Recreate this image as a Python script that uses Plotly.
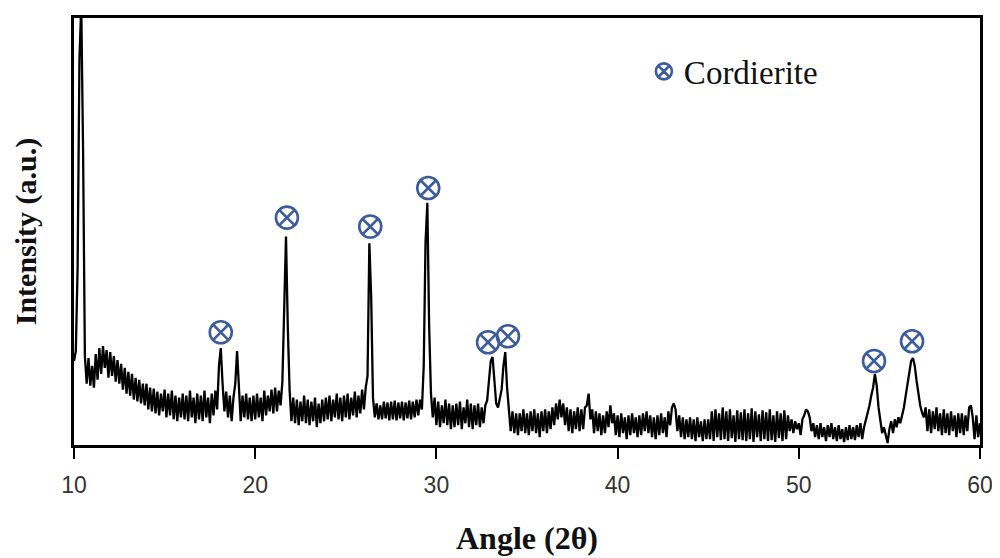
import plotly.graph_objects as go

# XRD pattern: angles 10.0 .. 60.0 step 0.1
angle_start, angle_step = 10.0, 0.1
intensity_rows = [
    [85, 95, 180, 390, 445, 300, 90, 62, 88, 60],      # 10
    [80, 58, 92, 66, 98, 72, 100, 78, 96, 68],         # 11
    [94, 70, 90, 64, 86, 62, 82, 56, 78, 52],          # 12
    [74, 50, 72, 46, 68, 44, 66, 42, 62, 40],          # 13
    [62, 36, 58, 34, 57, 32, 54, 30, 52, 34],          # 14
    [56, 28, 52, 30, 55, 26, 50, 24, 48, 28],          # 15
    [52, 26, 50, 24, 55, 28, 48, 22, 52, 26],          # 16
    [50, 24, 55, 28, 48, 22, 52, 30, 55, 36],          # 17
    [80, 98, 62, 34, 54, 28, 50, 24, 48, 62],          # 18
    [95, 55, 24, 50, 28, 52, 26, 48, 24, 50],          # 19
    [26, 52, 28, 48, 24, 55, 30, 50, 34, 56],          # 20
    [32, 58, 34, 55, 40, 64, 130, 211, 118, 55],       # 21
    [24, 48, 22, 46, 20, 44, 24, 50, 22, 46],          # 22
    [20, 44, 24, 48, 18, 42, 22, 46, 24, 48],          # 23
    [26, 50, 24, 46, 28, 52, 26, 48, 24, 50],          # 24
    [28, 52, 26, 48, 30, 54, 28, 50, 32, 56],          # 25
    [36, 58, 70, 204, 150, 48, 28, 42, 26, 40],        # 26
    [26, 44, 27, 43, 25, 44, 26, 45, 25, 43],          # 27
    [27, 44, 25, 43, 27, 45, 26, 44, 28, 46],          # 28
    [30, 46, 36, 80, 205, 245, 120, 52, 28, 48],       # 29
    [20, 44, 18, 40, 22, 46, 20, 42, 16, 40],          # 30
    [18, 42, 20, 44, 16, 38, 22, 46, 18, 42],          # 31
    [16, 40, 20, 42, 18, 38, 22, 40, 45, 62],          # 32
    [85, 89, 60, 42, 38, 46, 56, 80, 94, 58],          # 33
    [36, 14, 34, 12, 32, 10, 32, 14, 36, 12],          # 34
    [32, 10, 34, 14, 36, 12, 32, 8, 34, 14],           # 35
    [36, 12, 34, 16, 38, 20, 42, 26, 46, 28],          # 36
    [42, 20, 38, 14, 36, 12, 34, 16, 38, 14],          # 37
    [36, 16, 38, 40, 52, 26, 36, 12, 34, 14],          # 38
    [32, 10, 30, 12, 34, 18, 40, 22, 32, 10],          # 39
    [30, 8, 32, 12, 28, 6, 30, 10, 32, 12],            # 40
    [28, 8, 30, 10, 32, 14, 34, 12, 30, 8],            # 41
    [28, 6, 30, 10, 32, 12, 28, 8, 34, 20],            # 42
    [38, 42, 36, 14, 30, 8, 28, 6, 26, 8],             # 43
    [28, 6, 26, 4, 28, 8, 24, 4, 26, 6],               # 44
    [26, 6, 34, 4, 36, 8, 32, 5, 38, 6],               # 45
    [34, 4, 36, 7, 30, 3, 35, 6, 33, 5],               # 46
    [36, 4, 32, 6, 37, 3, 34, 8, 31, 4],               # 47
    [35, 6, 33, 4, 36, 5, 30, 3, 34, 7],               # 48
    [32, 4, 35, 6, 30, 14, 26, 12, 24, 16],            # 49
    [22, 10, 26, 30, 36, 34, 28, 14, 22, 8],           # 50
    [20, 6, 22, 8, 18, 4, 20, 8, 22, 6],               # 51
    [18, 4, 20, 6, 16, 3, 18, 5, 20, 6],               # 52
    [18, 5, 20, 8, 22, 6, 18, 25, 32, 40],             # 53
    [50, 58, 72, 60, 38, 22, 12, 18, 8, 2],            # 54
    [16, 24, 12, 26, 18, 28, 22, 30, 38, 50],          # 55
    [62, 75, 85, 88, 80, 65, 50, 40, 33, 28],          # 56
    [38, 14, 36, 12, 34, 16, 38, 14, 32, 10],          # 57
    [36, 12, 32, 10, 34, 14, 30, 8, 32, 12],           # 58
    [32, 10, 30, 14, 38, 40, 28, 6, 30, 8],            # 59
    [22],                                              # 60
]
intensity = [v for row in intensity_rows for v in row]
angles = [round(angle_start + i * angle_step, 1) for i in range(len(intensity))]

# Cordierite peak markers
cordierite_angles = [18.1, 21.75, 26.35, 29.55, 32.85, 33.95, 54.15, 56.25]
cordierite_heights = [114, 230, 221, 260, 104, 110, 85, 105]

x_ticks = [10, 20, 30, 40, 50, 60]

fig = go.Figure()
fig.add_trace(go.Scatter(
    x=angles, y=intensity, mode="lines",
    line=dict(color="black", width=2.3),
    showlegend=False, hoverinfo="skip",
))
fig.add_trace(go.Scatter(
    x=cordierite_angles, y=cordierite_heights, mode="markers",
    name="Cordierite",
    marker=dict(symbol="circle-x-open", size=22, color="#3b5c9c",
                line=dict(width=2.6, color="#3b5c9c")),
))

# page body has an 8px margin, so the figure is sized to fit the window
fig.update_layout(
    width=992, height=550,
    margin=dict(l=66, r=20, t=7, b=111),
    paper_bgcolor="white", plot_bgcolor="white",
    showlegend=True,
    legend=dict(x=0.629, y=0.875, xanchor="left", yanchor="middle",
                bgcolor="rgba(0,0,0,0)",
                font=dict(family="Liberation Serif", size=33, color="#111")),
    xaxis=dict(
        range=[10, 60], tickvals=x_ticks, ticktext=[str(t) for t in x_ticks],
        showgrid=False, zeroline=False,
        showline=True, linecolor="black", linewidth=2.5, mirror=True,
        ticks="outside", ticklen=11, tickwidth=1.5, tickcolor="black",
        ticklabelstandoff=7,
        tickfont=dict(family="Liberation Sans", size=23, color="#333"),
        title=dict(text="<b>Angle (2θ)</b>", standoff=30,
                   font=dict(family="Liberation Serif", size=32, color="#111")),
    ),
    yaxis=dict(
        range=[0, 432], showticklabels=False, ticks="",
        showgrid=False, zeroline=False,
        showline=True, linecolor="black", linewidth=2.5, mirror=True,
        title=dict(text="<b>Intensity (a.u.)</b>", standoff=26,
                   font=dict(family="Liberation Serif", size=30, color="#111")),
    ),
)

fig.write_html("out.html")
